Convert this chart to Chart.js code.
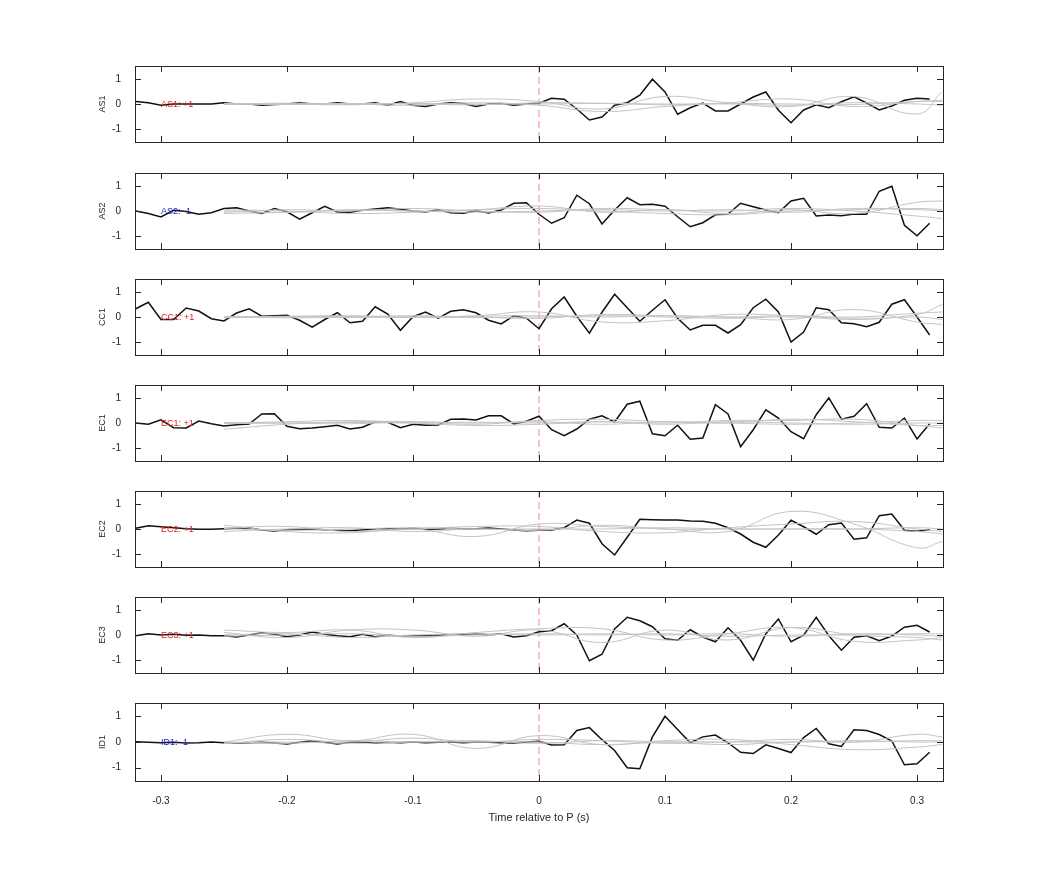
<!DOCTYPE html>
<html><head><meta charset="utf-8">
<script src="https://cdn.jsdelivr.net/npm/chart.js@4"></script>
<style>body{margin:0;background:#fff;width:1042px;height:875px;position:relative;overflow:hidden}canvas{position:absolute;left:0}</style>
</head><body>
<script>
const times = [-0.32,-0.31,-0.30,-0.29,-0.28,-0.27,-0.26,-0.25,-0.24,-0.23,-0.22,-0.21,-0.20,-0.19,-0.18,-0.17,-0.16,-0.15,-0.14,-0.13,-0.12,-0.11,-0.10,-0.09,-0.08,-0.07,-0.06,-0.05,-0.04,-0.03,-0.02,-0.01,0,
 0.01,0.02,0.03,0.04,0.05,0.06,0.07,0.08,0.09,0.10,0.11,0.12,0.13,0.14,0.15,0.16,0.17,0.18,0.19,0.20,0.21,0.22,0.23,0.24,0.25,0.26,0.27,0.28,0.29,0.30,0.31];
const grayTimes = [-0.25,-0.20,-0.15,-0.10,-0.05,0,0.05,0.10,0.15,0.20,0.25,0.30,0.32];
const channels = ["AS1","AS2","CC1","EC1","EC2","EC3","ID1"];
const signs = ["+1","-1","+1","+1","+1","+1","-1"];
const xTicks = [-0.3,-0.2,-0.1,0,0.1,0.2,0.3];
const yTicks = [-1,0,1];

const AS1 = [0.1,0.05,-0.05,0,0,0,0,0.05,0,0,-0.05,-0.02,0,0.05,0,0,0.05,0,0,0.05,-0.05,0.1,-0.05,-0.1,0,0.05,0.02,-0.1,0,0.02,-0.05,0,0.03,
 0.23,0.19,-0.2,-0.64,-0.52,-0.05,0.05,0.35,0.99,0.48,-0.41,-0.15,0.04,-0.28,-0.28,0,0.28,0.48,-0.25,-0.75,-0.24,-0.03,-0.15,0.09,0.29,0.04,-0.24,-0.08,0.15,0.23,0.2];
const AS2 = [0,-0.1,-0.24,0.03,-0.02,-0.13,-0.07,0.1,0.13,0,-0.1,0.1,-0.03,-0.33,-0.07,0.19,-0.04,-0.05,0.03,0.08,0.13,0.07,0,-0.04,0.05,-0.07,-0.09,0.01,-0.08,0.04,0.31,0.33,-0.13,
 -0.49,-0.27,0.63,0.29,-0.52,0.04,0.53,0.25,0.27,0.19,-0.23,-0.63,-0.47,-0.15,-0.12,0.31,0.17,0.04,-0.07,0.4,0.51,-0.2,-0.16,-0.19,-0.12,-0.13,0.79,0.99,-0.57,-0.99,-0.49];
const CC1 = [0.33,0.59,-0.1,-0.1,0.36,0.24,-0.07,-0.16,0.16,0.33,0.03,0.05,0.07,-0.13,-0.41,-0.1,0.17,-0.23,-0.17,0.41,0.12,-0.53,0.01,0.2,-0.05,0.23,0.29,0.17,-0.13,-0.28,0.05,-0.05,-0.47,
 0.33,0.8,0.03,-0.65,0.19,0.91,0.37,-0.17,0.27,0.69,-0.05,-0.52,-0.33,-0.33,-0.64,-0.31,0.37,0.71,0.2,-1.0,-0.6,0.37,0.29,-0.23,-0.27,-0.39,-0.21,0.51,0.69,0,-0.72];
const EC1 = [0,-0.05,0.13,-0.19,-0.2,0.08,-0.03,-0.12,-0.07,-0.04,0.36,0.37,-0.13,-0.23,-0.2,-0.15,-0.09,-0.24,-0.17,0.05,0.03,-0.19,-0.05,-0.09,-0.08,0.15,0.16,0.12,0.29,0.29,-0.04,0.07,0.27,
 -0.27,-0.51,-0.24,0.15,0.29,0.04,0.75,0.87,-0.43,-0.51,-0.09,-0.65,-0.6,0.73,0.36,-0.95,-0.27,0.53,0.2,-0.35,-0.63,0.33,1.01,0.15,0.27,0.77,-0.17,-0.2,0.2,-0.64,-0.03];
const EC2 = [0.03,0.13,0.09,0.05,0.01,-0.01,-0.01,0.01,0.03,0.04,-0.04,-0.08,-0.03,-0.01,0,-0.03,-0.05,-0.07,-0.03,-0.01,0.01,0,0.03,-0.01,0,0.03,0,0.01,0.04,0,-0.04,-0.07,-0.05,
 -0.04,0.05,0.36,0.23,-0.59,-1.04,-0.33,0.39,0.37,0.36,0.36,0.32,0.31,0.23,0.05,-0.2,-0.53,-0.73,-0.24,0.35,0.09,-0.21,0.17,0.24,-0.41,-0.35,0.53,0.6,-0.05,-0.09,-0.03];
const EC3 = [-0.03,0.05,0,0.03,-0.01,0,-0.03,-0.03,-0.08,0,0.09,0.03,-0.07,0,0.12,0.03,-0.03,-0.07,0.03,-0.07,-0.01,-0.04,-0.03,-0.03,-0.01,0.01,0.03,0.05,0,0.05,-0.08,-0.03,0.13,
 0.17,0.45,0,-1.03,-0.77,0.24,0.71,0.57,0.33,-0.15,-0.21,0.21,-0.08,-0.27,0.29,-0.21,-1.01,0.05,0.64,-0.27,-0.01,0.71,-0.03,-0.61,-0.09,-0.03,-0.23,-0.04,0.31,0.39,0.12];
const ID1 = [0.01,-0.01,-0.03,-0.01,-0.04,-0.03,0,-0.03,-0.04,-0.03,-0.01,-0.04,-0.08,-0.01,0.05,-0.01,-0.08,-0.01,0,-0.04,-0.01,-0.03,0,-0.03,-0.01,0,-0.03,0,-0.01,-0.03,-0.04,0,0.03,
 -0.12,-0.11,0.45,0.56,0.09,-0.33,-1.0,-1.04,0.2,1.0,0.49,-0.03,0.2,0.27,-0.03,-0.4,-0.45,-0.11,-0.25,-0.41,0.17,0.53,-0.07,-0.17,0.48,0.45,0.29,0.04,-0.89,-0.85,-0.4];
const blackSeries = [AS1,AS2,CC1,EC1,EC2,EC3,ID1];

const grayAS1 = [[0.02,0,-0.03,0.05,0.2,0.1,-0.2,0.3,0.05,-0.1,0.3,-0.4,0.5],[0,0.03,0,-0.05,0.05,-0.05,-0.3,-0.1,0.05,0.2,-0.1,0.1,0.15],[-0.02,0,0.02,0,-0.03,0.05,0.03,0,0,-0.05,0.05,0,-0.05],[0.02,-0.02,0,0.02,0,0,0.02,-0.03,0.02,0,-0.02,0.1,0.1]];
const grayAS2 = [[-0.1,-0.05,0.05,0,0.05,0.2,-0.05,0.05,-0.1,0.05,-0.1,0.35,0.4],[0.05,0,-0.1,-0.05,0.05,0.1,0,-0.1,-0.15,0,0.05,0.1,0.05],[-0.05,0.05,0,0.1,0,-0.05,0.1,0.05,0,0.1,0,-0.2,-0.3],[0,-0.05,0.03,0,-0.05,0,0.05,0,0.05,-0.05,0.1,0.05,0]];
const grayCC1 = [[0,0.03,0.05,0,0.05,0.2,-0.2,-0.15,0.1,0.05,-0.05,0.1,0.5],[0.02,-0.03,0,0.05,0,-0.05,0.1,0.05,0,-0.1,0.3,-0.2,-0.3],[-0.03,0,0.02,-0.02,0.03,0.05,0,0.05,0,0.05,0,0.15,0.2],[0,0.02,-0.02,0,-0.02,0,0.05,0,-0.05,0,-0.1,0,-0.1]];
const grayEC1 = [[-0.25,-0.05,0.05,0.05,-0.05,0.1,0.15,0.05,0,0.15,0.05,-0.1,-0.1],[0,0.05,0.1,0,-0.1,-0.05,0.05,0,0.1,0.1,0.15,-0.1,-0.2],[0.02,0,-0.03,0.05,0,0.05,-0.05,0.05,0,-0.05,0,0.1,0.1],[-0.03,0,0.02,0,0.03,0,0.05,-0.05,0.05,0,-0.05,0,0]];
const grayEC2 = [[0.15,-0.1,-0.15,0,-0.3,0.2,0.1,0,-0.1,0.7,0.2,-0.75,-0.5],[0.05,0.1,-0.1,0,0.1,0.1,-0.1,-0.15,0.05,0.2,0.3,0,-0.1],[-0.1,0,0.05,-0.1,0,-0.05,0.15,0,0,0,0,-0.1,-0.2],[0.02,-0.05,0,0.05,0,0,0,0.05,0,0,0,0.05,0]];
const grayEC3 = [[0.2,0.1,0.2,-0.1,0.1,0.25,0.25,-0.2,0.05,0.3,-0.25,-0.2,-0.1],[0.1,-0.1,0.2,0.2,-0.05,0.2,-0.3,0.2,-0.2,0.3,0,-0.1,-0.2],[0,0.05,-0.1,0,0.05,0,0.05,0,0.05,-0.05,0.05,0,-0.05],[-0.05,0,0.05,-0.05,0,0.05,0,0.05,-0.05,0,0,0.05,0.05]];
const grayID1 = [[0,0.3,0.05,0.3,-0.25,0.25,-0.1,0.05,0.1,-0.1,-0.3,-0.2,-0.1],[-0.05,0.1,0,0.15,0,0.1,0.05,-0.05,0,0.1,0,0.3,0.2],[-0.05,0,-0.05,0,0.05,-0.05,0.05,0,-0.1,0,0,0.05,0.05],[0,-0.05,0.05,0,0,0,-0.1,0,0,0,0.05,0,0]];
const graySeries = [grayAS1,grayAS2,grayCC1,grayEC1,grayEC2,grayEC3,grayID1];

const panelTops = [66,173,279,385,491,597,703];
const PH = 80, PAD = 10, SHIFT = 2, LEFT = 135, RIGHT = 1042-943, XAX = 48;
const FONT = "'Liberation Sans', Arial, sans-serif";
const FRAME = '#262626';

const deco = {
  id:'deco',
  beforeDatasetsDraw(c, a, o){
    const {ctx, chartArea:ca, scales:{x}} = c;
    const px = x.getPixelForValue(0);
    ctx.save(); ctx.strokeStyle='#f08a8a'; ctx.lineWidth=1; ctx.setLineDash([7,4]);
    ctx.beginPath(); ctx.moveTo(px, ca.top); ctx.lineTo(px, ca.bottom); ctx.stroke(); ctx.restore();
  },
  afterDatasetsDraw(c, a, o){
    const {ctx, chartArea:ca, scales:{x,y}} = c;
    ctx.save();
    ctx.strokeStyle=FRAME; ctx.lineWidth=1;
    ctx.strokeRect(Math.round(ca.left)+0.5, Math.round(ca.top)+0.5, Math.round(ca.width), Math.round(ca.height));
    ctx.beginPath();
    xTicks.forEach(v=>{const p=Math.round(x.getPixelForValue(v))+0.5; ctx.moveTo(p,ca.top); ctx.lineTo(p,ca.top+6); ctx.moveTo(p,ca.bottom); ctx.lineTo(p,ca.bottom-6);});
    yTicks.forEach(v=>{const p=Math.round(y.getPixelForValue(v))+0.5; ctx.moveTo(ca.left,p); ctx.lineTo(ca.left+6,p); ctx.moveTo(ca.right,p); ctx.lineTo(ca.right-6,p);});
    ctx.stroke();
    ctx.fillStyle = o.sign==='+1' ? '#e02020' : '#2020d0';
    ctx.font = '9px '+FONT; ctx.textBaseline='middle'; ctx.textAlign='left';
    ctx.fillText(o.name+': '+o.sign, x.getPixelForValue(-0.3), y.getPixelForValue(0)+1);
    ctx.fillStyle=FRAME; ctx.font='9px '+FONT;
    ctx.translate(103, (ca.top+ca.bottom)/2); ctx.rotate(-Math.PI/2); ctx.textAlign='center';
    ctx.fillText(o.name, 0, 0);
    ctx.restore();
  }
};

channels.forEach((name,i)=>{
  const last = i===channels.length-1;
  const cv = document.createElement('canvas');
  const h = PH + 2*PAD + (last?XAX-PAD:0);
  cv.width=1042; cv.height=h; cv.style.width='1042px'; cv.style.height=h+'px'; cv.style.top=(panelTops[i]-PAD-SHIFT)+'px';
  document.body.appendChild(cv);
  const datasets = graySeries[i].map(g=>({data:grayTimes.map((t,k)=>({x:t,y:g[k]})), borderColor:'#c4c4c4', borderWidth:1, tension:0.45, pointRadius:0}));
  datasets.push({data:times.map((t,k)=>({x:t,y:blackSeries[i][k]})), borderColor:'#111', borderWidth:1.5, tension:0, pointRadius:0});
  new Chart(cv,{type:'line',data:{datasets},plugins:[deco],options:{
    responsive:false, maintainAspectRatio:false, animation:false, devicePixelRatio:1,
    layout:{padding:{top:PAD,bottom:last?0:PAD,left:0,right:RIGHT}},
    plugins:{legend:{display:false},tooltip:{enabled:false},deco:{name,sign:signs[i]}},
    scales:{
      x:{type:'linear',min:-0.3206,max:0.3206,display:last,
        grid:{display:false},border:{display:false},
        ticks:{stepSize:0.1,includeBounds:false,color:FRAME,font:{family:FONT,size:10},padding:6,maxRotation:0,
          callback:v=>{const r=Math.round(v*10)/10; return r===0?'0':String(r);}},
        title:{display:last,text:'Time relative to P (s)',color:FRAME,font:{family:FONT,size:11},padding:{top:2,bottom:4}},
        afterFit:s=>{ if(last) s.height=XAX; }},
      y:{min:-1.52,max:1.52,grid:{display:false},border:{display:false},
        ticks:{stepSize:1,includeBounds:false,color:FRAME,font:{family:FONT,size:10},padding:6},
        afterFit:s=>{s.width=LEFT;}}
    }}});
});
</script>
</body></html>
